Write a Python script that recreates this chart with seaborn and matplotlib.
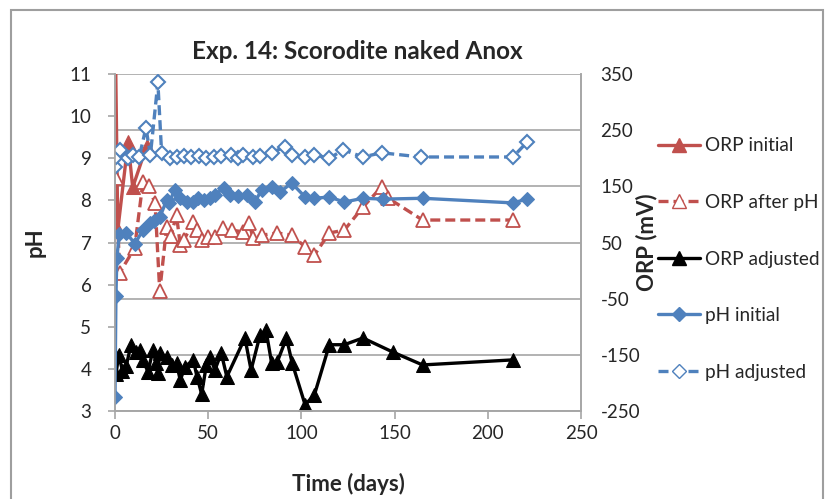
import matplotlib
matplotlib.use("Agg")
import matplotlib.pyplot as plt
from matplotlib.lines import Line2D
from matplotlib.patches import Rectangle
import seaborn as sns

# ---- data ----------------------------------------------------------------
orp_initial_days = [0, 1.5, 7, 9.5, 17]
orp_initial_mv = [460, 72, 229, 148, 222]

orp_after_days = [0.5, 2.5, 10.5, 15, 18, 21.5, 24, 27.7, 30, 33, 35, 37, 42, 44,
                  46.5, 50, 53.6, 58, 62.6, 68.8, 72, 74, 78.7, 87, 95, 102, 107,
                  115, 123, 133, 143, 146.5, 165, 213.5]
orp_after_mv = [165, -4, 40, 158, 150, 120, -37, 78, 62, 99, 45, 55, 86, 72,
                55, 60, 60, 76, 72, 69, 85, 58, 63, 67, 63, 42, 28,
                67, 72, 113, 149, 129, 90, 90]

orp_adj_days = [0, 0.5, 2, 4, 6, 8.6, 11, 13.5, 15, 17.7, 20.4, 22, 23, 24, 27.7,
                30.6, 33, 35, 37.6, 42, 44, 46.5, 49, 51, 53.6, 57, 60, 69.7, 73,
                77.8, 81, 84, 87, 92, 95, 102, 107, 115, 123, 133, 149, 165, 213.5]
orp_adj_mv = [-150, -185, -150, -178, -170, -132, -145, -141, -160, -180, -141,
              -165, -182, -147, -154, -168, -165, -195, -171, -159, -189, -220,
              -168, -154, -177, -147, -189, -120, -177, -115, -106, -164, -163,
              -120, -164, -239, -221, -132, -132, -120, -145, -168, -159]

ph_initial_days = [0, 0.5, 1, 2.3, 6, 10.7, 15, 19, 21, 24, 27.7, 29, 32, 35, 38.5,
                   42, 44.5, 48, 51, 53.6, 58.5, 61.7, 66, 71, 75, 78.7, 84, 88.5,
                   94.8, 102, 107, 115, 123, 133, 144, 165, 213.5, 221]
ph_initial = [3.33, 5.73, 6.63, 7.2, 7.23, 6.97, 7.3, 7.47, 7.5, 7.6, 8.0, 7.94,
              8.25, 8.06, 7.96, 7.97, 8.06, 8.0, 8.05, 8.13, 8.3, 8.13, 8.1, 8.13,
              7.96, 8.25, 8.32, 8.2, 8.41, 8.08, 8.05, 8.08, 7.96, 8.05, 8.03,
              8.05, 7.94, 8.03]

ph_adj_days = [0, 0.5, 2.7, 7, 9.6, 13, 16.6, 19, 23, 25, 29.5, 33, 37, 41, 45, 49,
               53, 57, 62, 66, 68.8, 74, 78, 84, 91, 95, 102, 107, 115, 122.5, 133,
               143, 164, 213.5, 221]
ph_adjusted = [8.8, 9.03, 9.2, 9.0, 9.08, 9.03, 9.72, 9.08, 10.8, 9.13, 9.0, 9.02,
               9.05, 9.03, 9.06, 9.0, 9.03, 9.05, 9.08, 9.0, 9.08, 9.03, 9.05,
               9.13, 9.27, 9.08, 9.03, 9.08, 9.0, 9.2, 9.03, 9.13, 9.03, 9.03, 9.38]

ph_ticks = list(range(3, 12))
orp_ticks = list(range(-250, 351, 100))
x_ticks = list(range(0, 251, 50))

# ---- style ---------------------------------------------------------------
sns.set_theme(style="white")
plt.rcParams["font.family"] = ["Lato", "DejaVu Sans"]
plt.rcParams["axes.unicode_minus"] = False

RED = "#C0504D"
BLUE = "#4F81BD"
GRID = "#A6A6A6"
DASH = (0, (3, 1.5))

fig = plt.figure(figsize=(8.28, 4.99), dpi=100)
ax = fig.add_axes([115 / 828, 1 - 411 / 499, 466 / 828, 337 / 499])
axp = ax.twinx()

# ORP on the base axes (right-hand scale), pH on the twin (left-hand scale)
ax.yaxis.tick_right()
ax.yaxis.set_label_position("right")
axp.yaxis.tick_left()
axp.yaxis.set_label_position("left")

lw = 2.4
tri = dict(marker="^", markersize=9.5)
dia = dict(marker="D", markersize=7.5)

sns.lineplot(x=orp_initial_days, y=orp_initial_mv, ax=ax, color=RED, lw=lw,
             markeredgecolor=RED, estimator=None, **tri)
sns.lineplot(x=orp_after_days, y=orp_after_mv, ax=ax, color=RED, lw=lw,
             linestyle=DASH, markerfacecolor="white", markeredgecolor=RED,
             markeredgewidth=1.3, estimator=None, **tri)
sns.lineplot(x=orp_adj_days, y=orp_adj_mv, ax=ax, color="black", lw=lw,
             markeredgecolor="black", estimator=None, **tri)
sns.lineplot(x=ph_initial_days, y=ph_initial, ax=axp, color=BLUE, lw=lw,
             markeredgecolor=BLUE, estimator=None, **dia)
sns.lineplot(x=ph_adj_days, y=ph_adjusted, ax=axp, color=BLUE, lw=lw,
             linestyle=DASH, markerfacecolor="white", markeredgecolor=BLUE,
             markeredgewidth=1.5, estimator=None, **dia)

ax.set_xlim(0, 250)
ax.set_ylim(-250, 350)
axp.set_ylim(3, 11)
ax.set_xticks(x_ticks)
ax.set_yticks(orp_ticks)
axp.set_yticks(ph_ticks)

ax.grid(axis="y", color=GRID, lw=1.2)
ax.grid(axis="x", visible=False)
axp.grid(False)

for a in (ax, axp):
    a.spines["top"].set_visible(False)
    for side in ("left", "right", "bottom"):
        a.spines[side].set_color(GRID)
        a.spines[side].set_linewidth(1.2)

tick_font = 13.5
ax.tick_params(axis="x", direction="out", length=6, width=1.2, color=GRID,
               labelsize=tick_font, pad=4, bottom=True)
ax.tick_params(axis="y", length=0, labelsize=tick_font, pad=14)
axp.tick_params(axis="y", direction="out", length=5, width=1.2, color=GRID,
                labelsize=tick_font, pad=12, left=True)

ax.set_xlabel("Time (days)", fontsize=16, fontweight="bold", labelpad=22)
axp.set_ylabel("pH", fontsize=16, fontweight="bold", labelpad=17)
ax.set_ylabel("ORP (mV)", fontsize=16, fontweight="bold", labelpad=-3)
ax.set_title("Exp. 14: Scorodite naked Anox", fontsize=17.5, fontweight="bold",
             pad=11, x=0.52)

handles = [
    Line2D([], [], color=RED, lw=lw, markeredgecolor=RED, **tri),
    Line2D([], [], color=RED, lw=lw, linestyle=DASH, markerfacecolor="white",
           markeredgecolor=RED, **tri),
    Line2D([], [], color="black", lw=lw, **tri),
    Line2D([], [], color=BLUE, lw=lw, markeredgecolor=BLUE, **dia),
    Line2D([], [], color=BLUE, lw=lw, linestyle=DASH, markerfacecolor="white",
           markeredgecolor=BLUE, **dia),
]
labels = ["ORP initial", "ORP after pH", "ORP adjusted", "pH initial", "pH adjusted"]
fig.legend(handles, labels, loc="center left",
           bbox_to_anchor=(650 / 828, 1 - 259 / 499), frameon=False,
           fontsize=13.7, handlelength=2.25, handletextpad=0.25, labelspacing=2.08,
           borderaxespad=0)

# chart area border
fig.patches.append(Rectangle((11 / 828, -0.05), 812 / 828, 1.05 - 10 / 499,
                             transform=fig.transFigure, fill=False,
                             edgecolor="#9E9E9E", lw=1.5))

fig.savefig("out.png", dpi=100)
